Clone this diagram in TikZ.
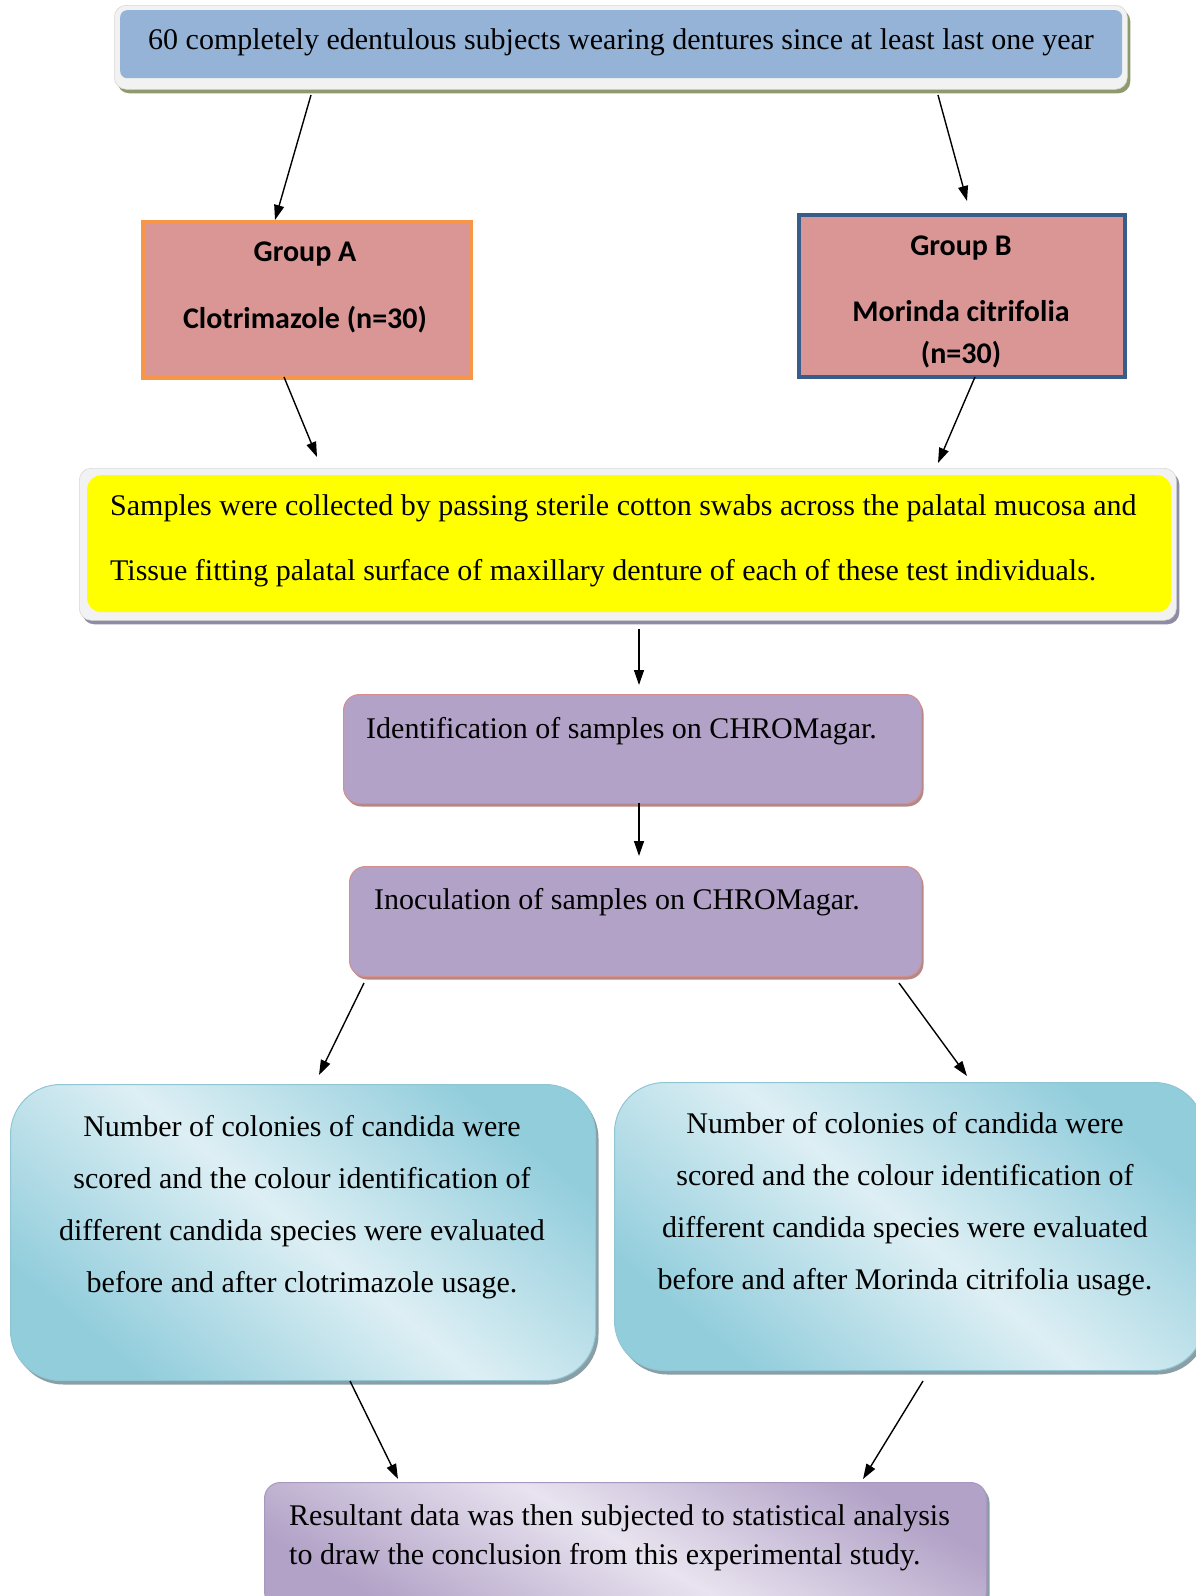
\documentclass[tikz,border=0pt]{standalone}
\usepackage{fontspec}
\setmainfont{Liberation Serif}
\newfontfamily\calibri{Carlito}
\usetikzlibrary{arrows.meta,shadows}
\definecolor{topblue}{HTML}{95B3D7}
\definecolor{framegray}{HTML}{F2F2F2}
\definecolor{framedraw}{HTML}{D8D8D8}
\definecolor{rosefill}{HTML}{D99694}
\definecolor{orangeb}{HTML}{F79646}
\definecolor{darkblueb}{HTML}{385D8A}
\definecolor{lav}{HTML}{B2A2C7}
\definecolor{lavdark}{HTML}{A898BF}
\definecolor{lavlight}{HTML}{E8E3EF}
\definecolor{aqua}{HTML}{92CDDC}
\definecolor{aqualight}{HTML}{DDEFF4}
\definecolor{shadowol}{HTML}{8E9A6E}
\definecolor{shadowpu}{HTML}{8E8CA2}
\definecolor{shadowgr}{HTML}{8A9EA6}
\definecolor{pinkb}{HTML}{D58E8C}
\definecolor{pureyellow}{RGB}{255,255,0}
\tikzset{
  box/.style={rectangle, inner sep=0pt, anchor=north west},
  frame/.style={box, rounded corners=12pt, fill=framegray, draw=framedraw, line width=0.6pt},
  groupbox/.style={box, fill=rosefill, line width=3.5pt},
  lavbox/.style={box, rounded corners=16pt, fill=lav, draw=pinkb, line width=1pt,
     drop shadow={shadow xshift=2pt, shadow yshift=-3pt, fill=pinkb!60!gray, opacity=1}},
  aquabox/.style={box, rounded corners=50pt, draw=aqua!90!gray, line width=1pt,
     top color=aqua, bottom color=aqua, middle color=aqualight, shading angle=-40,
     drop shadow={shadow xshift=3pt, shadow yshift=-4pt, fill=shadowgr, opacity=1}},
  finbox/.style={box, rounded corners=16pt, draw=lavdark, line width=1pt,
     top color=lav, bottom color=lav, middle color=lavlight, shading angle=-30,
     drop shadow={shadow xshift=3pt, shadow yshift=-4pt, fill=shadowgr, opacity=1}},
  txt/.style={inner sep=0pt, font=\fontsize{30}{36}\selectfont},
  gtxt/.style={inner sep=0pt, align=center},
  arr/.style={-{Triangle[length=15pt,width=10pt]}, line width=1.4pt},
}
\begin{document}
\begin{tikzpicture}[x=1pt,y=-1pt]
\useasboundingbox (0,0) rectangle (1196,1596);
% top box
\node[frame, minimum width=1013, minimum height=84,
  drop shadow={shadow xshift=3pt, shadow yshift=-4pt, fill=shadowol, opacity=1}] (topframe) at (114,5) {};
\node[box, rounded corners=7pt, fill=topblue, minimum width=1002, minimum height=68] (topbox) at (120,10) {};
\node[txt] (toptxt) at (621,42) {60 completely edentulous subjects wearing dentures since at least last one year};
% group boxes
\node[groupbox, draw=orangeb, minimum width=328, minimum height=156] (ga) at (141,220) {};
\node[gtxt, font=\calibri\bfseries\fontsize{30}{67}\selectfont] (gatxt) at (305,287) {Group A\\Clotrimazole (n=30)};
\node[groupbox, draw=darkblueb, minimum width=326, minimum height=162] (gb) at (797,213) {};
\node[gtxt, font=\calibri\bfseries\fontsize{30}{42}\selectfont] (gbtxt) at (961,302) {Group B\\[24pt]Morinda citrifolia\\(n=30)};
% yellow box
\node[frame, minimum width=1097, minimum height=152,
  drop shadow={shadow xshift=3pt, shadow yshift=-4pt, fill=shadowpu, opacity=1}] (yframe) at (79,468) {};
\node[box, rounded corners=14pt, fill=pureyellow, minimum width=1084, minimum height=137] (ybox) at (87,475) {};
\node[txt, anchor=west, align=left, font=\fontsize{30}{65}\selectfont] (ytxt) at (110,541) {Samples were collected by passing sterile cotton swabs across the palatal mucosa and\\Tissue fitting palatal surface of maxillary denture of each of these test individuals.};
% lavender boxes
\node[lavbox, minimum width=578, minimum height=109] (ident) at (343,694) {};
\node[txt, anchor=west] (identtxt) at (366,731) {Identification of samples on CHROMagar.};
\node[lavbox, minimum width=572, minimum height=110] (inoc) at (349,866) {};
\node[txt, anchor=west] (inoctxt) at (374,902) {Inoculation of samples on CHROMagar.};
% aqua boxes
\node[aquabox, minimum width=585, minimum height=296] (left) at (10,1084) {};
\node[txt, align=center, font=\fontsize{30}{52}\selectfont] (lefttxt) at (302,1207) {Number of colonies of candida were\\scored and the colour identification of\\different candida species were evaluated\\before and after clotrimazole usage.};
\node[aquabox, minimum width=590, minimum height=288] (right) at (614,1082) {};
\node[txt, align=center, font=\fontsize{30}{52}\selectfont] (righttxt) at (905,1204) {Number of colonies of candida were\\scored and the colour identification of\\different candida species were evaluated\\before and after Morinda citrifolia usage.};
% final box
\node[finbox, minimum width=722, minimum height=125] (fin) at (264,1482) {};
\node[txt, anchor=west, align=left, font=\fontsize{30}{39}\selectfont] (fintxt) at (289,1538) {Resultant data was then subjected to statistical analysis\\to draw the conclusion from this experimental study.};
% arrow end points
\coordinate (a1s) at (311,95);  \coordinate (a1e) at (275,220);
\coordinate (a2s) at (938,95);  \coordinate (a2e) at (967,201);
\coordinate (a3s) at (284,377); \coordinate (a3e) at (317,457);
\coordinate (a4s) at (975,377); \coordinate (a4e) at (938,463);
\coordinate (a5s) at (639,629); \coordinate (a5e) at (639,685);
\coordinate (a6s) at (639,803); \coordinate (a6e) at (639,856);
\coordinate (a7s) at (364,983); \coordinate (a7e) at (319,1075);
\coordinate (a8s) at (899,983); \coordinate (a8e) at (967,1076);
\coordinate (a9s) at (350,1381); \coordinate (a9e) at (398,1479);
\coordinate (a10s) at (923,1381); \coordinate (a10e) at (863,1479);
\foreach \i in {1,...,10} \draw[arr] (a\i s) -- (a\i e);
\end{tikzpicture}
\end{document}
